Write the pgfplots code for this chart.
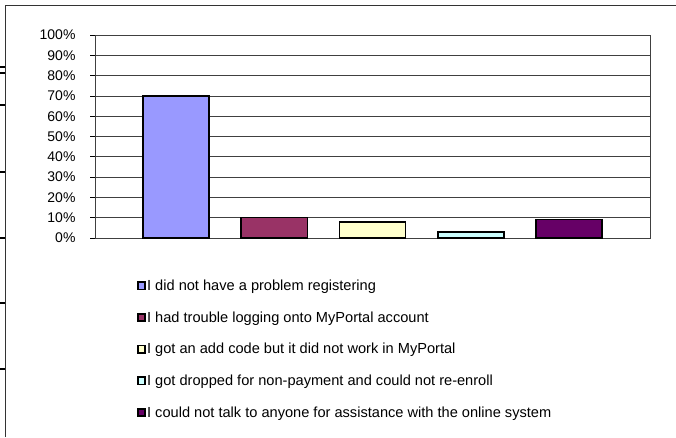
\documentclass[border=0pt]{standalone}
\usepackage{pgfplots}
\pgfplotsset{compat=1.18}
\usepackage{fontspec}
\setmainfont{Liberation Sans}
\definecolor{c1}{HTML}{9999FF}
\definecolor{c2}{HTML}{993366}
\definecolor{c3}{HTML}{FFFFCC}
\definecolor{c4}{HTML}{CCFFFF}
\definecolor{c5}{HTML}{660066}
\begin{document}
\begin{tikzpicture}
\useasboundingbox (0pt,0pt) rectangle (676pt,437pt);
\draw[line width=1pt, black!80] (5.3pt,0pt) -- (5.3pt,431.7pt) -- (676pt,431.7pt);
\foreach \yy in {67,73,105,172,238,303,369} \draw[line width=2pt] (0pt,437pt-\yy pt) -- (5pt,437pt-\yy pt);
\begin{axis}[at={(95pt,199pt)}, anchor=south west, scale only axis,
  width=555pt, height=203pt,
  ybar, bar width=0.672,
  every axis plot/.append style={bar shift=0pt, draw=black, line width=1.5pt,
    legend image code/.code={\draw[#1, draw=black, line width=1.7pt] (0pt,-3.8pt) rectangle (7.6pt,3.8pt);}},
  xmin=-0.824, xmax=4.824, ymin=0, ymax=100,
  ytick={0,10,...,100}, yticklabel={\pgfmathprintnumber{\tick}\%},
  /pgf/number format/assume math mode=true,
  xtick=\empty, ytick pos=left,
  tick align=outside, major tick length=5pt,
  tick style={black, line width=0.8pt},
  ymajorgrids, grid style={black!75, line width=0.8pt},
  axis line style={black!75, line width=0.8pt},
  tick label style={font=\fontsize{14}{16}\selectfont},
  yticklabel style={xshift=-11pt},
  legend style={draw=none, fill=none, at={(axis description cs:0.075,-0.185)}, anchor=north west,
    font=\fontsize{14.6}{16}\selectfont, row sep=15.6pt, cells={anchor=west},
    inner xsep=0pt, nodes={inner xsep=1pt}},
]
\addplot[fill=c1] coordinates {(0,70)};
\addplot[fill=c2] coordinates {(1,10)};
\addplot[fill=c3] coordinates {(2,8)};
\addplot[fill=c4] coordinates {(3,3)};
\addplot[fill=c5] coordinates {(4,9)};
\legend{I did not have a problem registering,
I had trouble logging onto MyPortal account,
I got an add code but it did not work in MyPortal,
I got dropped for non-payment and could not re-enroll,
I could not talk to anyone for assistance with the online system}
\end{axis}
\end{tikzpicture}
\end{document}
